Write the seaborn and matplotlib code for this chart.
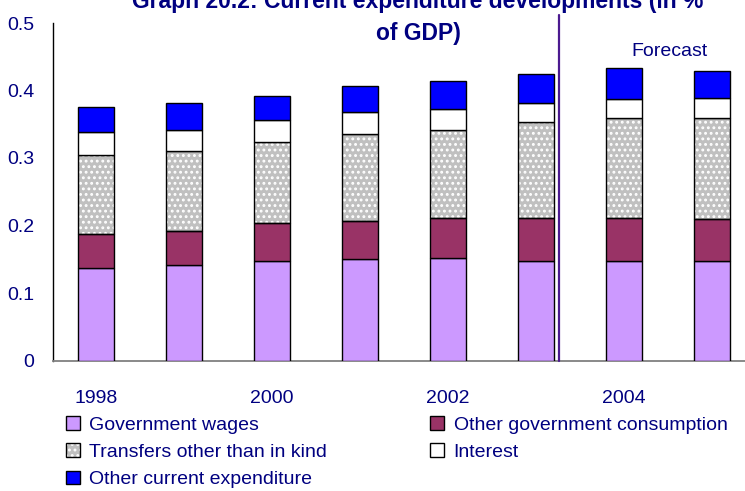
import numpy as np
import pandas as pd
import matplotlib
matplotlib.use("Agg")
import matplotlib.pyplot as plt
from matplotlib.patches import Patch
import seaborn as sns

# ---- data ----
years = ["1998", "1999", "2000", "2001", "2002", "2003", "2004", "2005"]
tick_years = ["1998", "2000", "2002", "2004"]
gov_wages = [0.137, 0.141, 0.147, 0.150, 0.152, 0.148, 0.148, 0.148]
other_gov_cons = [0.050, 0.051, 0.056, 0.057, 0.059, 0.063, 0.063, 0.061]
transfers = [0.117, 0.118, 0.121, 0.129, 0.130, 0.143, 0.148, 0.151]
interest = [0.035, 0.031, 0.032, 0.032, 0.031, 0.028, 0.029, 0.029]
other_current = [0.036, 0.040, 0.036, 0.038, 0.042, 0.042, 0.045, 0.040]
series_names = ["Government wages", "Other government consumption",
                "Transfers other than in kind", "Interest",
                "Other current expenditure"]
title_text = "Graph 20.2: Current expenditure developments (in %\nof GDP)"
forecast_label = "Forecast"
forecast_split = 5.26  # position of the forecast divider (between 2003 and 2004)

sns.set_theme(style="white")
plt.rcParams["font.family"] = ["Liberation Sans", "DejaVu Sans"]
plt.rcParams["hatch.linewidth"] = 1.3
NAVY = "#000080"

df = pd.DataFrame({"year": years, "wages": gov_wages, "othergov": other_gov_cons,
                   "transfers": transfers, "interest": interest,
                   "othercur": other_current})

fig = plt.figure(figsize=(7.45, 4.91), dpi=100)
ax = fig.add_axes([53 / 745, 1 - 360.5 / 491, 1 - 53 / 745, (360.5 - 23) / 491])

colors = {"wages": "#CC99FF", "othergov": "#993366", "transfers": "#C0C0C0",
          "interest": "#FFFFFF", "othercur": "#0000FF"}
cols = ["wages", "othergov", "transfers", "interest", "othercur"]
bottom = np.zeros(len(years))
W = 0.41
for c in cols:
    vals = df[c].to_numpy()
    if c == "transfers":
        sns.barplot(data=df, x="year", y=c, bottom=bottom, color=colors[c],
                    saturation=1, hatch="...", edgecolor="white", linewidth=0,
                    width=W, errorbar=None, ax=ax, zorder=2)
        sns.barplot(data=df, x="year", y=c, bottom=bottom, color=colors[c],
                    saturation=1, facecolor="none", edgecolor="black",
                    linewidth=1.0, width=W, errorbar=None, ax=ax, zorder=3)
    else:
        sns.barplot(data=df, x="year", y=c, bottom=bottom, color=colors[c],
                    saturation=1, edgecolor="black", linewidth=1.0, width=W,
                    errorbar=None, ax=ax, zorder=3)
    bottom = bottom + vals

ax.set_xlim(-0.49, 7.375)
ax.set_ylim(0, 0.5)
ax.set_xlabel("")
ax.set_ylabel("")
ax.set_yticks([0, 0.1, 0.2, 0.3, 0.4, 0.5])
ax.set_yticklabels(["0", "0.1", "0.2", "0.3", "0.4", "0.5"])
ax.set_xticks([years.index(t) for t in tick_years])
ax.set_xticklabels(tick_years)
for lab in ax.get_xticklabels() + ax.get_yticklabels():
    lab.set_fontsize(14)
    lab.set_color(NAVY)
ax.tick_params(axis="x", length=0, pad=21)
ax.tick_params(axis="y", length=0, pad=13.5)
for s in ["top", "right"]:
    ax.spines[s].set_visible(False)
ax.spines["left"].set_color("black")
ax.spines["left"].set_linewidth(1.0)
ax.spines["bottom"].set_color("#808080")
ax.spines["bottom"].set_linewidth(1.3)
ax.grid(False)

# forecast divider
ax.plot([forecast_split, forecast_split], [0, 0.512], color="#4B1A90",
        linewidth=1.6, clip_on=False, zorder=4)
ax.text(6.52, 0.458, forecast_label, ha="center", va="center", color=NAVY,
        fontsize=14)

fig.text(418 / 745, 1 - 40 / 491, title_text, ha="center", va="baseline",
         fontsize=16.5, fontweight="bold", color=NAVY, linespacing=1.5)

# legend
h = {}
for c in ["wages", "othergov", "interest", "othercur"]:
    h[c] = Patch(facecolor=colors[c], edgecolor="black", linewidth=1.0)
h["transfers"] = (Patch(facecolor=colors["transfers"], hatch="...", edgecolor="white", linewidth=0),
                  Patch(facecolor="none", edgecolor="black", linewidth=1.0))
handles = [h["wages"], h["transfers"], h["othercur"], h["othergov"], h["interest"]]
labels = [series_names[0], series_names[2], series_names[4], series_names[1], series_names[3]]
leg = fig.legend(handles, labels, ncol=2, loc="upper left",
                 bbox_to_anchor=(66 / 745, 1 - 416 / 491), frameon=False,
                 fontsize=14, handlelength=0.7, handleheight=0.7,
                 handletextpad=0.5, columnspacing=5.3, labelspacing=0.5,
                 borderpad=0, borderaxespad=0)
for t in leg.get_texts():
    t.set_color(NAVY)

fig.savefig("out.png", dpi=100)
